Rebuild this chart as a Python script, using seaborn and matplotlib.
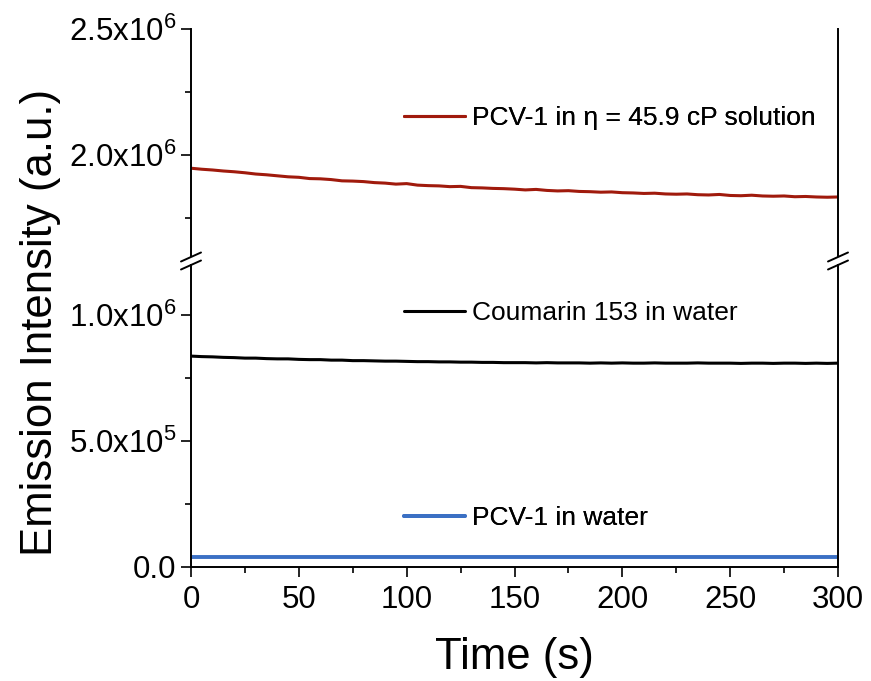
import matplotlib
matplotlib.use("Agg")
import matplotlib.pyplot as plt
import seaborn as sns
import numpy as np
import pandas as pd
from matplotlib.lines import Line2D
from matplotlib.ticker import MultipleLocator, FixedLocator

# ---------------- data ----------------
time_s = list(range(0, 301, 5))

pcv1_viscous = [1.948, 1.944, 1.941, 1.937, 1.934, 1.930, 1.925, 1.922, 1.918, 1.914,
                1.912, 1.907, 1.906, 1.903, 1.898, 1.897, 1.895, 1.891, 1.889, 1.885,
                1.887, 1.881, 1.879, 1.878, 1.875, 1.876, 1.871, 1.870, 1.868, 1.867,
                1.865, 1.862, 1.864, 1.860, 1.858, 1.859, 1.856, 1.855, 1.853, 1.854,
                1.851, 1.850, 1.848, 1.849, 1.846, 1.845, 1.846, 1.843, 1.842, 1.844,
                1.840, 1.839, 1.841, 1.838, 1.837, 1.838, 1.835, 1.836, 1.834, 1.833,
                1.834]  # x1e6

coumarin_water = [0.838, 0.836, 0.835, 0.833, 0.832, 0.830, 0.830, 0.828, 0.827, 0.827,
                  0.825, 0.824, 0.824, 0.822, 0.822, 0.820, 0.820, 0.819, 0.818, 0.818,
                  0.817, 0.816, 0.816, 0.815, 0.815, 0.814, 0.814, 0.813, 0.813, 0.812,
                  0.812, 0.812, 0.811, 0.812, 0.811, 0.811, 0.811, 0.810, 0.811, 0.810,
                  0.811, 0.810, 0.810, 0.811, 0.810, 0.810, 0.810, 0.811, 0.810, 0.810,
                  0.810, 0.809, 0.810, 0.810, 0.809, 0.810, 0.810, 0.809, 0.810, 0.809,
                  0.810]  # x1e6

pcv1_water = [0.038] * 61  # x1e6

series_labels = ["PCV-1 in \u03b7 = 45.9 cP solution", "Coumarin 153 in water", "PCV-1 in water"]
series_colors = ["#a01a0c", "#000000", "#3b70c4"]

lower_ticks = [0.0, 5.0e5, 1.0e6]
lower_ticklabels = ["0.0", "5.0x10$^{5}$", "1.0x10$^{6}$"]
upper_ticks = [2.0e6, 2.5e6]
upper_ticklabels = ["2.0x10$^{6}$", "2.5x10$^{6}$"]
x_ticks = [0, 50, 100, 150, 200, 250, 300]

df = pd.DataFrame({
    "time": time_s * 3,
    "value": [v * 1e6 for v in pcv1_viscous + coumarin_water + pcv1_water],
    "series": [series_labels[0]] * 61 + [series_labels[1]] * 61 + [series_labels[2]] * 61,
})

# ---------------- style ----------------
sns.set_style("ticks")
plt.rcParams["font.family"] = ["Liberation Sans", "DejaVu Sans"]
plt.rcParams["mathtext.fontset"] = "custom"
plt.rcParams["mathtext.rm"] = "Liberation Sans"
plt.rcParams["mathtext.it"] = "Liberation Sans:italic"
plt.rcParams["mathtext.bf"] = "Liberation Sans:bold"
plt.rcParams["text.color"] = "black"
plt.rcParams["axes.labelcolor"] = "black"
plt.rcParams["xtick.color"] = "black"
plt.rcParams["ytick.color"] = "black"

fig = plt.figure(figsize=(8.71, 6.81), dpi=100)
L, R = 191 / 871, 838 / 871
H = 681
ax_up = fig.add_axes([L, 1 - 256 / H, R - L, (256 - 29) / H])
ax_lo = fig.add_axes([L, 1 - 567 / H, R - L, (567 - 265) / H])

lw = {series_labels[0]: 2.2, series_labels[1]: 2.2, series_labels[2]: 2.8}
for ax in (ax_up, ax_lo):
    for lab, col in zip(series_labels, series_colors):
        sub = df[df["series"] == lab]
        sns.lineplot(data=sub, x="time", y="value", color=col, lw=lw[lab], ax=ax,
                     legend=False, estimator=None)

ax_up.set_ylim(1.6e6, 2.5e6)
ax_lo.set_ylim(0, 1.2e6)
for ax in (ax_up, ax_lo):
    ax.set_xlim(0, 300)
    ax.set_ylabel("")
    ax.set_xlabel("")
    for s in ax.spines.values():
        s.set_linewidth(1.4)
        s.set_color("black")
    ax.spines["top"].set_visible(False)
    ax.tick_params(axis="both", which="major", direction="out", length=7, width=1.2,
                   labelsize=22.5, colors="black", labelcolor="black")
    ax.tick_params(axis="both", which="minor", direction="out", length=4, width=1.2)

ax_up.spines["bottom"].set_visible(False)
ax_up.tick_params(axis="x", which="both", bottom=False, labelbottom=False)
ax_up.yaxis.set_major_locator(FixedLocator(upper_ticks))
ax_up.set_yticklabels(upper_ticklabels)
ax_up.yaxis.set_minor_locator(MultipleLocator(2.5e5))

ax_lo.yaxis.set_major_locator(FixedLocator(lower_ticks))
ax_lo.set_yticklabels(lower_ticklabels)
ax_lo.yaxis.set_minor_locator(MultipleLocator(2.5e5))
ax_lo.xaxis.set_major_locator(FixedLocator(x_ticks))
ax_lo.set_xticklabels([str(t) for t in x_ticks])
ax_lo.xaxis.set_minor_locator(MultipleLocator(25))
ax_lo.tick_params(axis="x", which="major", pad=6)
ax_lo.set_xlabel("Time (s)", fontsize=31.5, labelpad=16, color="black")

fig.text(0.046, 0.527, "Emission Intensity (a.u.)", rotation=90, ha="center",
         va="center", fontsize=31.5, color="black")

# break marks
def slash(ax, xpix, ypix_center):
    w, h = 10, 4.5
    inv = ax.transAxes.inverted()
    p1 = inv.transform(fig.transFigure.transform(((xpix - w) / 871, 1 - (ypix_center + h) / H)))
    p2 = inv.transform(fig.transFigure.transform(((xpix + w) / 871, 1 - (ypix_center - h) / H)))
    ax.plot([p1[0], p2[0]], [p1[1], p2[1]], transform=ax.transAxes, color="black",
            lw=1.4, clip_on=False)

for xp in (191, 838):
    slash(ax_up, xp, 257)
    slash(ax_lo, xp, 265)

# legends next to lines
def add_leg(ax, lab, col, lw_, ypix):
    h = Line2D([], [], color=col, lw=lw_)
    leg = ax.legend(handles=[h], labels=[lab], loc="center left", frameon=False,
                    fontsize=19, handlelength=2.3, handletextpad=0.27,
                    borderaxespad=0, borderpad=0,
                    bbox_to_anchor=(404 / 871, 1 - ypix / H),
                    bbox_transform=fig.transFigure)
    for t in leg.get_texts():
        t.set_color("black")
    ax.add_artist(leg)

add_leg(ax_up, series_labels[0], series_colors[0], 2.2, 118)
add_leg(ax_lo, series_labels[1], series_colors[1], 2.2, 313)
add_leg(ax_lo, series_labels[2], series_colors[2], 2.8, 518)

fig.savefig("out.png", dpi=100)
